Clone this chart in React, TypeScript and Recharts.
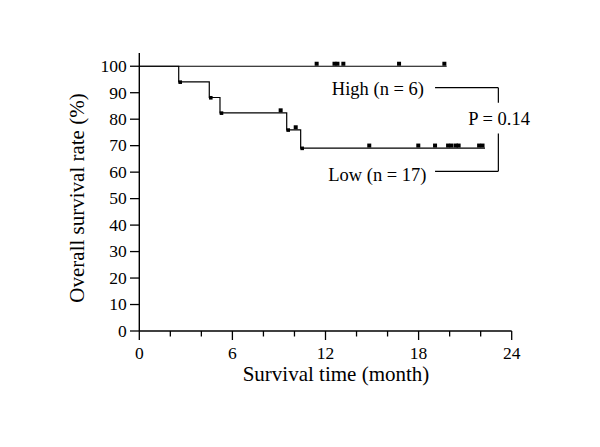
import React from "react";
import {
  ComposedChart,
  Line,
  Scatter,
  XAxis,
  YAxis,
  ReferenceLine,
} from "recharts";

// Kaplan–Meier step curves (month, survival %)
const highCurve = [
  { t: 0, s: 100 },
  { t: 19.81, s: 100 },
];
const lowCurve = [
  { t: 0, s: 100 },
  { t: 2.54, s: 94.1 },
  { t: 4.51, s: 88.2 },
  { t: 5.2, s: 82.4 },
  { t: 9.5, s: 76.0 },
  { t: 10.4, s: 69.1 },
  { t: 22.28, s: 69.1 },
];
// censor marks
const highCensored = [
  { t: 11.43, s: 100 },
  { t: 12.58, s: 100 },
  { t: 12.77, s: 100 },
  { t: 13.15, s: 100 },
  { t: 16.74, s: 100 },
  { t: 19.66, s: 100 },
];
const lowCensored = [
  { t: 9.11, s: 82.4 },
  { t: 10.08, s: 76.0 },
  { t: 14.82, s: 69.1 },
  { t: 17.98, s: 69.1 },
  { t: 19.06, s: 69.1 },
  { t: 19.9, s: 69.1 },
  { t: 20.12, s: 69.1 },
  { t: 20.4, s: 69.1 },
  { t: 20.58, s: 69.1 },
  { t: 21.9, s: 69.1 },
  { t: 22.12, s: 69.1 },
];
// marks drawn at the foot of each drop
const lowDropMarks = [
  { t: 2.54, s: 94.1 },
  { t: 4.51, s: 88.2 },
  { t: 5.2, s: 82.4 },
  { t: 9.5, s: 76.0 },
  { t: 10.4, s: 69.1 },
];

const xTicks = [0, 2, 4, 6, 8, 10, 12, 14, 16, 18, 20, 22, 24];
const xLabelTicks = [0, 6, 12, 18, 24];
const yTicks = [0, 10, 20, 30, 40, 50, 60, 70, 80, 90, 100];

const xTitle = "Survival time (month)";
const yTitle = "Overall survival rate (%)";
const highLabel = "High (n = 6)";
const lowLabel = "Low (n = 17)";
const pLabel = "P = 0.14";

// bracket joining the two group labels (data coordinates)
const bracketX = [19.06, 23.14];
const bracketY = [91.9, 86.2, 74.6, 60.3];

const FONT = "'Liberation Serif', 'Times New Roman', serif";

const XTick = (props: any) => {
  const { x, y, payload } = props;
  const major = xLabelTicks.includes(payload.value);
  return (
    <g>
      <line x1={x} x2={x} y1={y} y2={y + (major ? 9 : 5.5)} stroke="#000" strokeWidth={1.3} />
      {major && (
        <text x={x} y={y + 28} textAnchor="middle" fontFamily={FONT} fontSize={17.5} fill="#000">
          {payload.value}
        </text>
      )}
    </g>
  );
};

const YTick = (props: any) => {
  const { x, y, payload } = props;
  return (
    <g>
      <line x1={x - 9.3} x2={x} y1={y} y2={y} stroke="#000" strokeWidth={1.3} />
      <text x={x - 12.5} y={y + 5.8} textAnchor="end" fontFamily={FONT} fontSize={17.5} fill="#000">
        {payload.value}
      </text>
    </g>
  );
};

const CensorMark = (props: any) => {
  const { cx, cy } = props;
  return <rect x={cx - 2} y={cy - 4.5} width={4} height={4} fill="#000" />;
};
const DropMark = (props: any) => {
  const { cx, cy } = props;
  return <rect x={cx - 0.3} y={cy - 1.5} width={3.6} height={3.6} fill="#000" />;
};

export default function App() {
  return (
    <div style={{ position: "absolute", left: 0, top: 0, width: 600, height: 447, background: "#fff" }}>
      <ComposedChart
        width={600}
        height={447}
        margin={{ top: 53, right: 88.3, bottom: 0, left: 0 }}
      >
        <XAxis
          dataKey="t"
          type="number"
          domain={[0, 24]}
          ticks={xTicks}
          interval={0}
          allowDataOverflow
          height={116}
          tickSize={0}
          tickMargin={0}
          tickLine={false}
          tick={<XTick />}
          axisLine={{ stroke: "#000", strokeWidth: 1.4 }}
        />
        <YAxis
          dataKey="s"
          type="number"
          domain={[0, 105]}
          ticks={yTicks}
          interval={0}
          allowDataOverflow
          width={139.3}
          tickSize={0}
          tickMargin={0}
          tickLine={false}
          tick={<YTick />}
          axisLine={{ stroke: "#000", strokeWidth: 1.4 }}
        />
        <Line
          data={highCurve}
          dataKey="s"
          type="stepAfter"
          stroke="#000"
          strokeWidth={1.2}
          dot={false}
          activeDot={false}
          isAnimationActive={false}
        />
        <Line
          data={lowCurve}
          dataKey="s"
          type="stepAfter"
          stroke="#000"
          strokeWidth={1.2}
          dot={false}
          activeDot={false}
          isAnimationActive={false}
        />
        <Scatter data={highCensored} dataKey="s" shape={<CensorMark />} isAnimationActive={false} />
        <Scatter data={lowCensored} dataKey="s" shape={<CensorMark />} isAnimationActive={false} />
        <Scatter data={lowDropMarks} dataKey="s" shape={<DropMark />} isAnimationActive={false} />
        <ReferenceLine
          segment={[{ x: bracketX[0], y: bracketY[0] }, { x: bracketX[1], y: bracketY[0] }]}
          stroke="#000"
          strokeWidth={1.2}
        />
        <ReferenceLine
          segment={[{ x: bracketX[1], y: bracketY[0] }, { x: bracketX[1], y: bracketY[1] }]}
          stroke="#000"
          strokeWidth={1.2}
        />
        <ReferenceLine
          segment={[{ x: bracketX[1], y: bracketY[2] }, { x: bracketX[1], y: bracketY[3] }]}
          stroke="#000"
          strokeWidth={1.2}
        />
        <ReferenceLine
          segment={[{ x: bracketX[0], y: bracketY[3] }, { x: bracketX[1], y: bracketY[3] }]}
          stroke="#000"
          strokeWidth={1.2}
        />
      </ComposedChart>
      <svg
        width={600}
        height={447}
        style={{ position: "absolute", left: 0, top: 0, pointerEvents: "none" }}
      >
        <text x={336} y={381} textAnchor="middle" fontFamily={FONT} fontSize={21} fill="#000">
          {xTitle}
        </text>
        <text
          x={84}
          y={198}
          textAnchor="middle"
          transform="rotate(-90 84 198)"
          fontFamily={FONT}
          fontSize={21}
          fill="#000"
        >
          {yTitle}
        </text>
        <text x={424} y={95} textAnchor="end" fontFamily={FONT} fontSize={18.5} fill="#000">
          {highLabel}
        </text>
        <text x={426.5} y={180.5} textAnchor="end" fontFamily={FONT} fontSize={18.5} fill="#000">
          {lowLabel}
        </text>
        <text x={530} y={125} textAnchor="end" fontFamily={FONT} fontSize={18.5} fill="#000">
          {pLabel}
        </text>
      </svg>
    </div>
  );
}
